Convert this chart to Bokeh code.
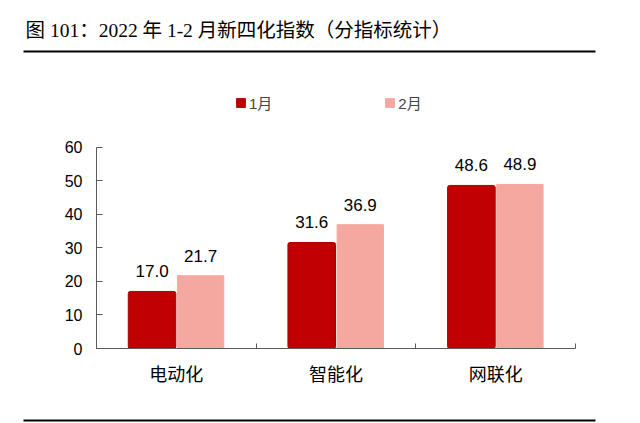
from bokeh.plotting import figure
from bokeh.layouts import column
from bokeh.models import (ColumnDataSource, Range1d, FixedTicker, Legend, LegendItem,
                          Label, BoxAnnotation)
from bokeh.transform import dodge
from bokeh.core.properties import value
from bokeh.embed import file_html
from bokeh.resources import INLINE

# ---- data ----
title_text = "图 101：2022 年 1-2 月新四化指数（分指标统计）"
categories = ["电动化", "智能化", "网联化"]
series_names = ["1月", "2月"]
jan = [17.0, 31.6, 48.6]
feb = [21.7, 36.9, 48.9]
y_ticks = [0, 10, 20, 30, 40, 50, 60]
y_axis_max = 60

# ---- style / layout ----
DARK = "#C00000"
PINK = "#F5A8A0"
AXIS = "#595959"
NUM_FONT = "Liberation Sans"
CJK_FONT = "Liberation Sans, Noto Sans CJK SC"
TITLE_FONT = "Liberation Serif, Noto Sans CJK SC"

W = 624
TOP_H = 56          # header strip (title + rule)
MAIN_H = 334        # chart
BOT_H = 32          # footer strip (rule)

# chart frame placement in the main figure (pixels)
F_LEFT, F_RIGHT = 96, 575
F_TOP = 4                      # frame top (legend lives inside the frame)
AXIS_TOP = 146.7 - TOP_H       # pixel row where y = 60
F_BOTTOM = 348 - TOP_H         # pixel row where y = 0
px_per_unit = (F_BOTTOM - AXIS_TOP) / y_axis_max
y_end = (F_BOTTOM - F_TOP) / px_per_unit


def strip(height):
    s = figure(width=W, height=height, output_backend="svg", toolbar_location=None,
               x_range=Range1d(0, W), y_range=Range1d(height, 0),
               x_axis_location=None, y_axis_location=None, frame_align=False,
               min_border=0, min_border_left=0, min_border_right=0,
               min_border_top=0, min_border_bottom=0)
    s.outline_line_color = None
    s.xgrid.grid_line_color = None
    s.ygrid.grid_line_color = None
    s.background_fill_color = "white"
    s.border_fill_color = "white"
    return s


# ---- header ----
top = strip(TOP_H)
top.add_layout(Label(x=25, y=30, text=title_text, text_font=TITLE_FONT,
                     text_font_size="19.5px", text_baseline="middle", text_align="left",
                     text_color="#000000"))
top.add_layout(BoxAnnotation(left=23, right=595, top=50, bottom=52,
                             fill_color="#000000", fill_alpha=1, line_color=None))

# ---- chart ----
xpos = [i + 0.5 for i in range(len(categories))]
src = ColumnDataSource(dict(
    x=xpos, jan=jan, feb=feb,
    jan_lbl=[f"{v:.1f}" for v in jan],
    feb_lbl=[f"{v:.1f}" for v in feb],
))

p = figure(width=W, height=MAIN_H, output_backend="svg", toolbar_location=None,
           x_range=Range1d(0, len(categories)), y_range=Range1d(0, y_end),
           frame_align=False,
           min_border_left=F_LEFT, min_border_right=W - F_RIGHT,
           min_border_top=F_TOP, min_border_bottom=MAIN_H - F_BOTTOM)
p.outline_line_color = None
p.xgrid.grid_line_color = None
p.ygrid.grid_line_color = None
p.background_fill_color = "white"
p.border_fill_color = "white"

yax = p.yaxis[0]
yax.ticker = FixedTicker(ticks=y_ticks)
yax.bounds = (0, y_axis_max)
yax.axis_line_color = AXIS
yax.major_tick_line_color = AXIS
yax.major_tick_in = 6
yax.major_tick_out = 0
yax.minor_tick_line_color = None
yax.major_label_text_font = NUM_FONT
yax.major_label_text_font_size = "16px"
yax.major_label_text_color = "#000000"
yax.major_label_standoff = 14

xax = p.xaxis[0]
xax.ticker = FixedTicker(ticks=xpos, minor_ticks=list(range(len(categories) + 1)))
xax.major_label_overrides = {x: c for x, c in zip(xpos, categories)}
xax.axis_line_color = AXIS
xax.major_tick_line_color = None
xax.minor_tick_line_color = AXIS
xax.minor_tick_in = 5
xax.minor_tick_out = 0
xax.major_label_text_font = CJK_FONT
xax.major_label_text_font_size = "18px"
xax.major_label_text_color = "#000000"
xax.major_label_standoff = 10

OFF = 0.152
r1 = p.vbar(x=dodge("x", -OFF), top="jan", width=0.298, source=src,
            fill_color=DARK, line_color="#A80000", border_radius=2)
r2 = p.vbar(x=dodge("x", OFF), top="feb", width=0.29, source=src,
            fill_color=PINK, line_color=PINK)

for col, lbl, off in (("jan", "jan_lbl", -OFF), ("feb", "feb_lbl", OFF)):
    p.text(x=dodge("x", off), y=col, text=lbl, source=src,
           text_align="center", text_baseline="alphabetic", y_offset=-20,
           text_font=value(NUM_FONT), text_font_size="17px", text_color="#000000")

legend = Legend(items=[LegendItem(label=series_names[0], renderers=[r1]),
                       LegendItem(label=series_names[1], renderers=[r2])],
                orientation="horizontal",
                location=(235 - 96, F_BOTTOM - (113 - TOP_H)),
                glyph_width=11, glyph_height=11, label_standoff=3, spacing=112,
                padding=0, margin=0, border_line_color=None, background_fill_alpha=0,
                label_text_font=CJK_FONT, label_text_font_size="15px",
                label_height=15)
p.add_layout(legend, "center")

# ---- footer ----
bot = strip(BOT_H)
bot.add_layout(BoxAnnotation(left=23, right=595, top=29, bottom=31,
                             fill_color="#000000", fill_alpha=1, line_color=None))

layout = column(top, p, bot, spacing=0)
open("out.html", "w").write(file_html(layout, INLINE))
